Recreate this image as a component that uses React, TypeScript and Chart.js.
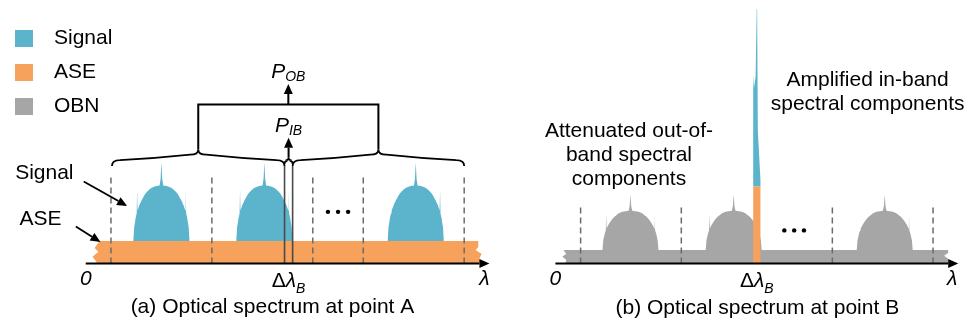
import React, { useEffect, useRef } from "react";
import { Chart, registerables } from "chart.js";

Chart.register(...registerables);

const SIGNAL_COLOR = "#5BB4CC";
const ASE_COLOR = "#F6A25C";
const OBN_COLOR = "#A6A6A6";
const DASH_COLOR = "#6B6B6B";
const FONT = "'Liberation Sans', Arial, Helvetica, sans-serif";

// Legend
const legendLabels = ["Signal", "ASE", "OBN"];
const legendColors = [SIGNAL_COLOR, ASE_COLOR, OBN_COLOR];

// Shape of one channel's spectrum (offset in channel spacings, fraction of hump height)
const humpDx = [-0.278, -0.27, -0.255, -0.245, -0.241, -0.237, -0.22, -0.2, -0.18, -0.16, -0.14, -0.12, -0.1, -0.08, -0.05, -0.018, -0.008, 0, 0.008, 0.018, 0.05, 0.08, 0.1, 0.12, 0.14, 0.16, 0.18, 0.2, 0.22, 0.237, 0.241, 0.245, 0.255, 0.27, 0.278];
const humpFrac = [0, 0.25, 0.42, 0.5, 0.93, 0.55, 0.64, 0.72, 0.79, 0.85, 0.89, 0.93, 0.955, 0.975, 0.99, 1, 1.12, 1.42, 1.12, 1, 0.99, 0.975, 0.955, 0.93, 0.89, 0.85, 0.79, 0.72, 0.64, 0.55, 0.93, 0.5, 0.42, 0.25, 0];

// Panel (a): optical spectrum at point A
const channelCentersA = [0.75, 1.77, 3.27];
const channelEdgesA = [0.25, 1.25, 2.25, 2.75, 3.75];
const aseLevelA = 1.15;
const signalTopA = 4.0;
const filterEdgesA = [1.97, 2.05];
const aseLeftX = [0.137, 0.088, 0.125, 0.068, 0.117];
const aseLeftY = [1.15, 0.8, 0.6, 0.35, 0];
const aseRightX = [3.922, 3.9, 3.922, 3.863, 3.89, 3.89];
const aseRightY = [0, 0.25, 0.5, 0.7, 0.85, 1.15];
const dotsXA = [2.4, 2.5, 2.6];
const dotsYA = 2.65;

// Panel (b): optical spectrum at point B
const channelCentersB = [0.745, 1.77, 3.27];
const channelEdgesB = [0.25, 1.25, 2.75, 3.75];
const obnLevelB = 0.7;
const obnHumpTopB = 2.7;
const filterEdgesB = [1.964, 2.036];
const ampAseTopB = 3.95;
const ampSignalX = [1.964, 1.964, 1.972, 1.988, 1.999, 2.003, 2.01, 2.036, 2.036];
const ampSignalY = [3.95, 9.65, 9.0, 9.6, 13.05, 13.05, 6.8, 4.3, 3.95];
const obnLeftX = [0.078, 0.107, 0.068, 0.107, 0.1];
const obnLeftY = [0.7, 0.5, 0.35, 0.2, 0];
const obnRightX = [3.9, 3.9, 3.86, 3.9, 3.9];
const obnRightY = [0, 0.25, 0.4, 0.55, 0.7];
const dotsXB = [2.273, 2.371, 2.468];
const dotsYB = 1.7;

const AXIS_END = 4.0;
const Y_MIN = -3.2;
const Y_MAX = 13.3;

type Pt = { x: number; y: number };

function poly(points: Pt[], color: string, order: number) {
  return {
    data: points,
    showLine: true,
    fill: "shape",
    backgroundColor: color,
    borderColor: "rgba(0,0,0,0)",
    borderWidth: 0,
    pointRadius: 0,
    tension: 0,
    order,
  };
}

function vline(x: number, top: number, color: string, width: number, dash: number[], order: number) {
  return {
    data: [
      { x, y: 0 },
      { x, y: top },
    ],
    showLine: true,
    fill: false,
    borderColor: color,
    borderWidth: width,
    borderDash: dash,
    pointRadius: 0,
    order,
  };
}

function humpPoints(center: number, base: number, top: number): Pt[] {
  const pts: Pt[] = [{ x: center + humpDx[0], y: 0 }];
  humpDx.forEach((d, i) => pts.push({ x: center + d, y: base + humpFrac[i] * (top - base) }));
  pts.push({ x: center + humpDx[humpDx.length - 1], y: 0 });
  return pts;
}

function bandPoints(lx: number[], ly: number[], rx: number[], ry: number[]): Pt[] {
  const pts: Pt[] = [];
  lx.forEach((v, i) => pts.push({ x: v, y: ly[i] }));
  rx.forEach((v, i) => pts.push({ x: v, y: ry[i] }));
  return pts;
}

function arrow(ctx: CanvasRenderingContext2D, x1: number, y1: number, x2: number, y2: number, head = 10, hw = 4.5, lw = 2) {
  const a = Math.atan2(y2 - y1, x2 - x1);
  const bx = x2 - head * Math.cos(a);
  const by = y2 - head * Math.sin(a);
  ctx.lineWidth = lw;
  ctx.beginPath();
  ctx.moveTo(x1, y1);
  ctx.lineTo(bx, by);
  ctx.stroke();
  ctx.beginPath();
  ctx.moveTo(x2, y2);
  ctx.lineTo(bx + hw * Math.sin(a), by - hw * Math.cos(a));
  ctx.lineTo(bx - hw * Math.sin(a), by + hw * Math.cos(a));
  ctx.closePath();
  ctx.fill();
}

function brace(ctx: CanvasRenderingContext2D, x1: number, x2: number, yEnd: number, yA1: number, yA2: number, yTip: number, r: number) {
  const xm = (x1 + x2) / 2;
  ctx.beginPath();
  ctx.moveTo(x1, yEnd);
  ctx.quadraticCurveTo(x1, yA1, x1 + r, yA1);
  ctx.quadraticCurveTo((x1 + xm) / 2, (yA1 + yA2) / 2 + 1, xm - r, yA2);
  ctx.quadraticCurveTo(xm, yA2, xm, yTip);
  ctx.quadraticCurveTo(xm, yA2, xm + r, yA2);
  ctx.quadraticCurveTo((x2 + xm) / 2, (yA1 + yA2) / 2 + 1, x2 - r, yA1);
  ctx.quadraticCurveTo(x2, yA1, x2, yEnd);
  ctx.stroke();
}

type Part = { t: string; font: string; dy: number };
function richText(ctx: CanvasRenderingContext2D, parts: Part[], cx: number, cy: number) {
  let w = 0;
  parts.forEach((p) => {
    ctx.font = p.font;
    w += ctx.measureText(p.t).width;
  });
  let x = cx - w / 2;
  ctx.textAlign = "left";
  ctx.textBaseline = "middle";
  parts.forEach((p) => {
    ctx.font = p.font;
    ctx.fillText(p.t, x, cy + p.dy);
    x += ctx.measureText(p.t).width;
  });
}

function text(ctx: CanvasRenderingContext2D, t: string, x: number, y: number, font: string, align: CanvasTextAlign = "center") {
  ctx.font = font;
  ctx.textAlign = align;
  ctx.textBaseline = "middle";
  ctx.fillText(t, x, y);
}

function drawAxis(ctx: CanvasRenderingContext2D, X: (v: number) => number, Y: (v: number) => number) {
  const x0 = X(0);
  const x1 = X(AXIS_END);
  const y0 = Y(0);
  ctx.fillStyle = "#000";
  ctx.strokeStyle = "#000";
  arrow(ctx, x0, y0, x1, y0, 10, 4.5, 2);
}

const REG = `21px ${FONT}`;
const ITAL = `italic 21px ${FONT}`;
const SUB = `italic 14px ${FONT}`;

function axisLabels(ctx: CanvasRenderingContext2D, X: (v: number) => number, Y: (v: number) => number, filterMid: number, lamX: number) {
  ctx.fillStyle = "#000";
  text(ctx, "0", X(0), Y(-0.78), ITAL);
  text(ctx, "λ", X(lamX), Y(-0.8), ITAL);
  richText(
    ctx,
    [
      { t: "Δ", font: REG, dy: 0 },
      { t: "λ", font: ITAL, dy: 0 },
      { t: "B", font: SUB, dy: 8 },
    ],
    X(filterMid),
    Y(-0.9)
  );
}

const annotA = {
  id: "annotA",
  afterDatasetsDraw(chart: any) {
    const ctx: CanvasRenderingContext2D = chart.ctx;
    const xs = chart.scales.x;
    const ys = chart.scales.y;
    const X = (v: number) => xs.getPixelForValue(v);
    const Y = (v: number) => ys.getPixelForValue(v);
    ctx.save();
    drawAxis(ctx, X, Y);
    axisLabels(ctx, X, Y, (filterEdgesA[0] + filterEdgesA[1]) / 2, 3.95);

    // braces
    ctx.strokeStyle = "#000";
    ctx.lineWidth = 1.8;
    const lb1 = X(channelEdgesA[0]) + 1;
    const lb2 = X(filterEdgesA[0]);
    const rb1 = X(filterEdgesA[1]);
    const rb2 = X(channelEdgesA[channelEdgesA.length - 1]);
    brace(ctx, lb1, lb2, Y(5.0), Y(5.3), Y(5.58), Y(5.85), 8);
    brace(ctx, rb1, rb2, Y(5.0), Y(5.3), Y(5.58), Y(5.85), 8);
    brace(ctx, lb2, rb1, Y(5.1), Y(5.25), Y(5.3), Y(5.45), 2);

    // bracket to P_OB
    const lm = (lb1 + lb2) / 2;
    const rm = (rb1 + rb2) / 2;
    ctx.lineWidth = 2;
    ctx.beginPath();
    ctx.moveTo(lm, Y(5.85));
    ctx.lineTo(lm, Y(8.15));
    ctx.lineTo(rm, Y(8.15));
    ctx.lineTo(rm, Y(5.85));
    ctx.stroke();
    ctx.fillStyle = "#000";
    const om = (lm + rm) / 2;
    arrow(ctx, om, Y(8.15), om, Y(9.2), 10, 4.5, 2);
    richText(
      ctx,
      [
        { t: "P", font: ITAL, dy: 0 },
        { t: "OB", font: SUB, dy: 5 },
      ],
      om,
      Y(9.8)
    );
    const im = (lb2 + rb1) / 2;
    arrow(ctx, im, Y(5.45), im, Y(6.45), 10, 4.5, 2);
    richText(
      ctx,
      [
        { t: "P", font: ITAL, dy: 0 },
        { t: "IB", font: SUB, dy: 5 },
      ],
      im,
      Y(7.05)
    );

    // side annotations
    text(ctx, "Signal", X(-0.41), Y(4.65), REG);
    arrow(ctx, X(-0.02), Y(4.2), X(0.41), Y(2.95), 10, 4.5, 1.8);
    text(ctx, "ASE", X(-0.449), Y(2.25), REG);
    arrow(ctx, X(-0.098), Y(1.9), X(0.146), Y(1.1), 10, 4.5, 1.8);

    // caption
    text(ctx, "(a) Optical spectrum at point A", X(1.85), Y(-2.25), REG);

    // legend
    legendLabels.forEach((lab, i) => {
      const top = 30 + i * 34;
      ctx.fillStyle = legendColors[i];
      ctx.fillRect(15, top, 18, 17);
      ctx.fillStyle = "#000";
      text(ctx, lab, 54, top + 8.5, REG, "left");
    });
    ctx.restore();
  },
};

const annotB = {
  id: "annotB",
  afterDatasetsDraw(chart: any) {
    const ctx: CanvasRenderingContext2D = chart.ctx;
    const xs = chart.scales.x;
    const ys = chart.scales.y;
    const X = (v: number) => xs.getPixelForValue(v);
    const Y = (v: number) => ys.getPixelForValue(v);
    ctx.save();
    drawAxis(ctx, X, Y);
    axisLabels(ctx, X, Y, (filterEdgesB[0] + filterEdgesB[1]) / 2, 3.94);
    ctx.fillStyle = "#000";
    text(ctx, "Attenuated out-of-", X(0.73), Y(6.8), REG);
    text(ctx, "band spectral", X(0.73), Y(5.55), REG);
    text(ctx, "components", X(0.73), Y(4.3), REG);
    text(ctx, "Amplified in-band", X(3.1), Y(9.4), REG);
    text(ctx, "spectral components", X(3.1), Y(8.15), REG);
    text(ctx, "(b) Optical spectrum at point B", X(2.005), Y(-2.3), REG);
    ctx.restore();
  },
};

function buildA() {
  const ds: any[] = [];
  channelCentersA.forEach((c) => ds.push(poly(humpPoints(c, aseLevelA, signalTopA), SIGNAL_COLOR, 6)));
  ds.push(poly(bandPoints(aseLeftX, aseLeftY, aseRightX, aseRightY), ASE_COLOR, 5));
  channelEdgesA.forEach((e) => ds.push(vline(e, 4.6, DASH_COLOR, 1.5, [6, 4], 4)));
  filterEdgesA.forEach((e) => ds.push(vline(e, 5.0, "#4A4A4A", 1.6, [], 3)));
  ds.push({
    data: dotsXA.map((x) => ({ x, y: dotsYA })),
    showLine: false,
    pointRadius: 2.2,
    pointBackgroundColor: "#000",
    pointBorderWidth: 0,
    order: 1,
  });
  return ds;
}

function buildB() {
  const ds: any[] = [];
  channelCentersB.forEach((c) => ds.push(poly(humpPoints(c, obnLevelB, obnHumpTopB), OBN_COLOR, 7)));
  ds.push(poly(bandPoints(obnLeftX, obnLeftY, obnRightX, obnRightY), OBN_COLOR, 6));
  ds.push(
    poly(
      [
        { x: filterEdgesB[0], y: 0 },
        { x: filterEdgesB[0], y: ampAseTopB },
        { x: filterEdgesB[1], y: ampAseTopB },
        { x: filterEdgesB[1], y: 0 },
      ],
      ASE_COLOR,
      4
    )
  );
  ds.push(poly(ampSignalX.map((x, i) => ({ x, y: ampSignalY[i] })), SIGNAL_COLOR, 4));
  channelEdgesB.forEach((e) => ds.push(vline(e, 2.95, DASH_COLOR, 1.5, [6, 4], 3)));
  ds.push({
    data: dotsXB.map((x) => ({ x, y: dotsYB })),
    showLine: false,
    pointRadius: 2.2,
    pointBackgroundColor: "#000",
    pointBorderWidth: 0,
    order: 1,
  });
  return ds;
}

function Panel(props: { left: number; width: number; xMin: number; xMax: number; build: () => any[]; plugin: any }) {
  const ref = useRef<HTMLCanvasElement | null>(null);
  useEffect(() => {
    if (!ref.current) return;
    const chart = new Chart(ref.current, {
      type: "line",
      data: { datasets: props.build() },
      options: {
        animation: false,
        responsive: false,
        events: [],
        layout: { padding: 0 },
        plugins: { legend: { display: false }, tooltip: { enabled: false } },
        scales: {
          x: { type: "linear", min: props.xMin, max: props.xMax, display: false },
          y: { type: "linear", min: Y_MIN, max: Y_MAX, display: false },
        },
      },
      plugins: [props.plugin],
    } as any);
    return () => chart.destroy();
  }, []);
  return (
    <canvas
      ref={ref}
      width={props.width}
      height={330}
      style={{ position: "absolute", left: props.left, top: 0, width: props.width, height: 330 }}
    />
  );
}

export default function App() {
  return (
    <div style={{ position: "absolute", left: 0, top: 0, width: 974, height: 330, background: "#fff" }}>
      <Panel left={0} width={520} xMin={-0.8098} xMax={4.2634} build={buildA} plugin={annotA} />
      <Panel left={520} width={454} xMin={-0.3122} xMax={4.117} build={buildB} plugin={annotB} />
    </div>
  );
}
